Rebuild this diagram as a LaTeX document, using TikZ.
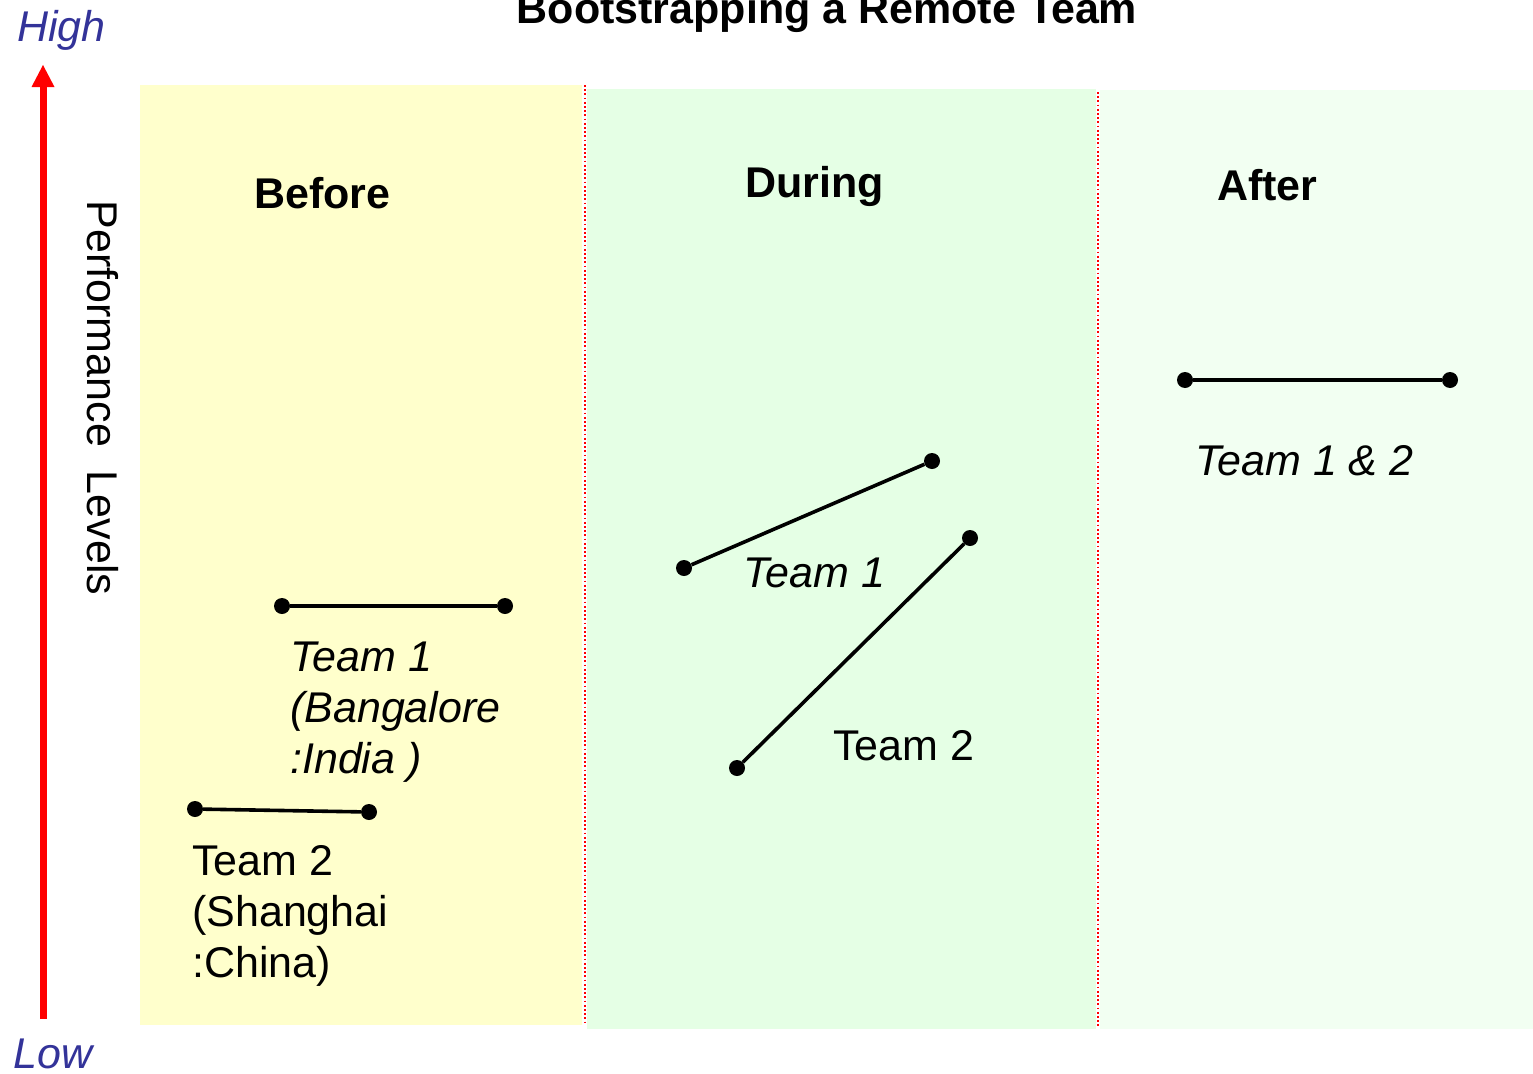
\documentclass[tikz,border=0pt]{standalone}
\usepackage{fontspec}
\setmainfont{Liberation Sans}
\begin{document}
\begin{tikzpicture}[x=1pt,y=-1pt,
  txt/.style={inner sep=0pt,font=\fontsize{43}{51}\selectfont},
  hdr/.style={txt,font=\fontsize{43}{51}\selectfont\bfseries},
  lvl/.style={txt,font=\fontsize{43}{51}\selectfont\itshape,text=axisblue},
  dot/.style={circle,fill=black,inner sep=0pt,minimum size=16pt},
  conn/.style={line width=3.6pt,black},
  divider/.style={red,line width=1.8pt,dash pattern=on 1.8pt off 2.4pt}
]
\definecolor{axisblue}{HTML}{333399}
\definecolor{panelyellow}{HTML}{FFFFCC}
\definecolor{panelgreen}{HTML}{E5FFE5}
\definecolor{panelpale}{HTML}{F2FFF2}
\useasboundingbox (0,0) rectangle (1533,1073);
\fill[white] (0,0) rectangle (1533,1073);

% panels
\fill[panelyellow] (140,85) rectangle (582,1025);
\fill[panelgreen] (587,89) rectangle (1096,1029);
\fill[panelpale] (1100,90) rectangle (1533,1029);
\coordinate (d1t) at (585,85);
\coordinate (d1b) at (585,1025);
\coordinate (d2t) at (1098,92);
\coordinate (d2b) at (1098,1028);
\draw[divider] (d1t) -- (d1b);
\draw[divider] (d2t) -- (d2b);

% title
\node[hdr,anchor=base] (title) at (827,24) {Bootstrapping a Remote Team};

% axis
\coordinate (axlo) at (43,1019);
\coordinate (axhi) at (43,87);
\coordinate (axtip) at (43,65);
\draw[red,line width=7pt] (axlo) -- (axhi);
\fill[red] ([xshift=-11.5pt]axhi) -- (axtip) -- ([xshift=11.5pt]axhi) -- cycle;
\node[lvl,anchor=base west] (high) at (17,42) {High};
\node[lvl,anchor=base west] (low) at (13,1068) {Low};
\node[txt,rotate=-90,anchor=center] (perf) at (103,398) {Performance\ \ Levels};

% headers
\node[hdr,anchor=base west] (before) at (254,208) {Before};
\node[hdr,anchor=base west] (during) at (745,197) {During};
\node[hdr,anchor=base west] (after) at (1217,200) {After};

% Before
\node[dot] (b1a) at (282,606) {};
\node[dot] (b1b) at (505,606) {};
\draw[conn] (b1a) -- (b1b);
\node[txt,font=\fontsize{43}{51}\selectfont\itshape,align=left,anchor=north west] (b1t) at (290,642) {Team 1\\(Bangalore\\:India )};
\node[dot] (b2a) at (195,809) {};
\node[dot] (b2b) at (369,812) {};
\draw[conn] (b2a) -- (b2b);
\node[txt,align=left,anchor=north west] (b2t) at (192,845) {Team 2\\(Shanghai\\:China)};

% During
\node[dot] (d1a) at (684,568) {};
\node[dot] (d1z) at (932,461) {};
\draw[conn] (d1a) -- (d1z);
\node[txt,font=\fontsize{43}{51}\selectfont\itshape,anchor=base west] (dt1) at (743,587) {Team 1};
\node[dot] (d2a) at (737,768) {};
\node[dot] (d2z) at (970,538) {};
\draw[conn] (d2a) -- (d2z);
\node[txt,anchor=base west] (dt2) at (833,760) {Team 2};

% After
\node[dot] (a1) at (1185,380) {};
\node[dot] (a2) at (1450,380) {};
\draw[conn] (a1) -- (a2);
\node[txt,font=\fontsize{43}{51}\selectfont\itshape,anchor=base west] (at) at (1195,475) {Team 1 \& 2};
\end{tikzpicture}
\end{document}
